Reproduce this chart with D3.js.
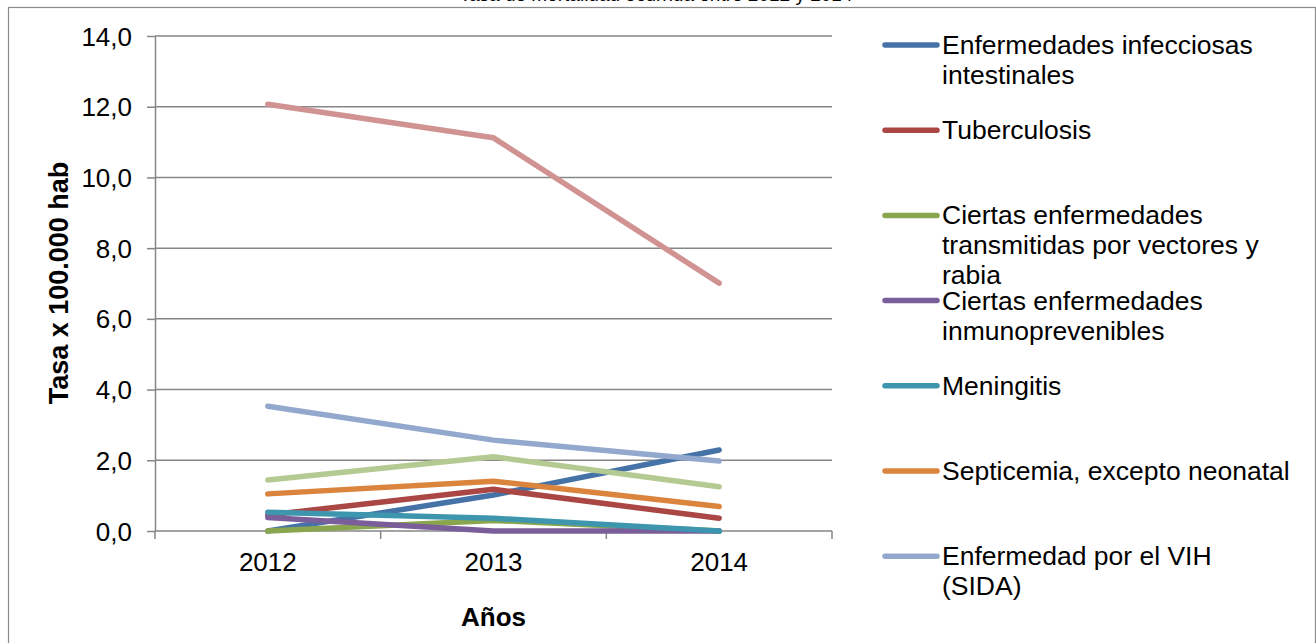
<!DOCTYPE html>
<html>
<head>
<meta charset="utf-8">
<script src="https://cdn.jsdelivr.net/npm/d3@7"></script>
<style>
  body { margin: 0; background: #fff; }
  text { font-family: Arial, "Liberation Sans", sans-serif; fill: #000; }
</style>
</head>
<body>
<script>
// years on the x axis
const years = ['2012', '2013', '2014'];

// series names (last two are cut off in the legend)
const names = [
  'Enfermedades infecciosas intestinales',
  'Tuberculosis',
  'Ciertas enfermedades transmitidas por vectores y rabia',
  'Ciertas enfermedades inmunoprevenibles',
  'Meningitis',
  'Septicemia, excepto neonatal',
  'Enfermedad por el VIH (SIDA)',
  'Infecciones respiratorias agudas',
  'Resto de ciertas enfermedades infecciosas y parasitarias',
];

// legend labels broken the way they wrap
const legendLines = [
  ['Enfermedades infecciosas', 'intestinales'],
  ['Tuberculosis'],
  ['Ciertas enfermedades', 'transmitidas por vectores y', 'rabia'],
  ['Ciertas enfermedades', 'inmunoprevenibles'],
  ['Meningitis'],
  ['Septicemia, excepto neonatal'],
  ['Enfermedad por el VIH', '(SIDA)'],
];

const infIntestinales = [0.0, 1.02, 2.29];
const tuberculosis = [0.45, 1.18, 0.36];
const vectores = [0.0, 0.3, 0.0];
const inmunoprev = [0.38, 0.0, 0.0];
const meningitis = [0.53, 0.36, 0.0];
const septicemia = [1.05, 1.41, 0.69];
const vih = [3.53, 2.57, 1.98];
const ira = [12.07, 11.12, 7.01];
const resto = [1.44, 2.1, 1.25];

const yTicks = [0, 2, 4, 6, 8, 10, 12, 14];

const colors = ['#4572A7', '#AA4643', '#89A54E', '#7A5E9A', '#3D96AE', '#DB843D', '#92A8CD', '#D09392', '#B5CA92'];

const series = [infIntestinales, tuberculosis, vectores, inmunoprev, meningitis, septicemia, vih, ira, resto]
  .map((values, i) => ({ name: names[i], values: values, color: colors[i] }));

const W = 1316, H = 643;
const plot = { left: 155, right: 832, top: 36, bottom: 531 };

const svg = d3.select('body').append('svg').attr('width', W).attr('height', H);

// outer frame (cut at the bottom)
svg.append('rect')
  .attr('x', 8.5).attr('y', 7.5).attr('width', 1307).attr('height', 700)
  .attr('fill', 'none').attr('stroke', '#8a8a8a').attr('stroke-width', 1.2);

// title, only its lower edge shows above the frame
svg.append('text')
  .attr('x', 656).attr('y', 1)
  .attr('text-anchor', 'middle')
  .style('font-size', '19px')
  .text('Tasa de mortalidad ocurrida entre 2012 y 2014');

const x = d3.scaleBand().domain(years).range([plot.left, plot.right]).padding(0);
const y = d3.scaleLinear().domain([0, 14]).range([plot.bottom, plot.top]);

const fmt = (v) => d3.format('.1f')(v).replace('.', ',');

// gridlines
svg.append('g')
  .selectAll('line')
  .data(yTicks.filter((d) => d > 0))
  .join('line')
  .attr('x1', plot.left).attr('x2', plot.right)
  .attr('y1', (d) => y(d)).attr('y2', (d) => y(d))
  .attr('stroke', '#868686').attr('stroke-width', 1.5);

// y axis
const yAxis = svg.append('g')
  .attr('transform', `translate(${plot.left},0)`)
  .call(d3.axisLeft(y).tickValues(yTicks).tickFormat(fmt).tickSize(8).tickSizeOuter(0).tickPadding(15));
yAxis.select('.domain').attr('stroke', '#868686').attr('stroke-width', 1.5);
yAxis.selectAll('.tick line').attr('stroke', '#868686').attr('stroke-width', 1.5);
yAxis.selectAll('.tick text').style('font-size', '26px').attr('font-family', null).attr('dy', '0.35em');

// x axis
const xAxis = svg.append('g')
  .attr('transform', `translate(0,${plot.bottom})`);
xAxis.append('line')
  .attr('x1', plot.left).attr('x2', plot.right)
  .attr('stroke', '#868686').attr('stroke-width', 1.5);
const bounds = years.map((d) => x(d)).concat([plot.right]);
xAxis.selectAll('line.tk')
  .data(bounds)
  .join('line')
  .attr('class', 'tk')
  .attr('x1', (d) => d).attr('x2', (d) => d)
  .attr('y1', 0).attr('y2', 8)
  .attr('stroke', '#868686').attr('stroke-width', 1.5);
xAxis.selectAll('text')
  .data(years)
  .join('text')
  .attr('x', (d) => x(d) + x.bandwidth() / 2)
  .attr('y', 40)
  .attr('text-anchor', 'middle')
  .style('font-size', '26px')
  .text((d) => d);

// axis titles
svg.append('text')
  .attr('transform', 'translate(68,283) rotate(-90)')
  .attr('text-anchor', 'middle')
  .style('font-size', '27px')
  .style('font-weight', 'bold')
  .text('Tasa x 100.000 hab');

svg.append('text')
  .attr('x', x('2013') + x.bandwidth() / 2)
  .attr('y', 626)
  .attr('text-anchor', 'middle')
  .style('font-size', '26px')
  .style('font-weight', 'bold')
  .text('Años');

// lines
const line = d3.line()
  .x((d, i) => x(years[i]) + x.bandwidth() / 2)
  .y((d) => y(d));

svg.append('g')
  .selectAll('path')
  .data(series)
  .join('path')
  .attr('d', (d) => line(d.values))
  .attr('fill', 'none')
  .attr('stroke', (d) => d.color)
  .attr('stroke-width', 5.5)
  .attr('stroke-linecap', 'round')
  .attr('stroke-linejoin', 'round');

// legend (only the first seven entries fit)
const legend = svg.append('g');
const legendTop = 45, legendStep = 85.2;
legendLines.forEach((lines, i) => {
  const cy = legendTop + i * legendStep;
  legend.append('line')
    .attr('x1', 885).attr('x2', 937)
    .attr('y1', cy).attr('y2', cy)
    .attr('stroke', series[i].color)
    .attr('stroke-width', 5.5)
    .attr('stroke-linecap', 'round');
  lines.forEach((t, j) => {
    legend.append('text')
      .attr('x', 942)
      .attr('y', cy + 9 + j * 30)
      .style('font-size', '26.5px')
      .text(t);
  });
});
</script>
</body>
</html>
